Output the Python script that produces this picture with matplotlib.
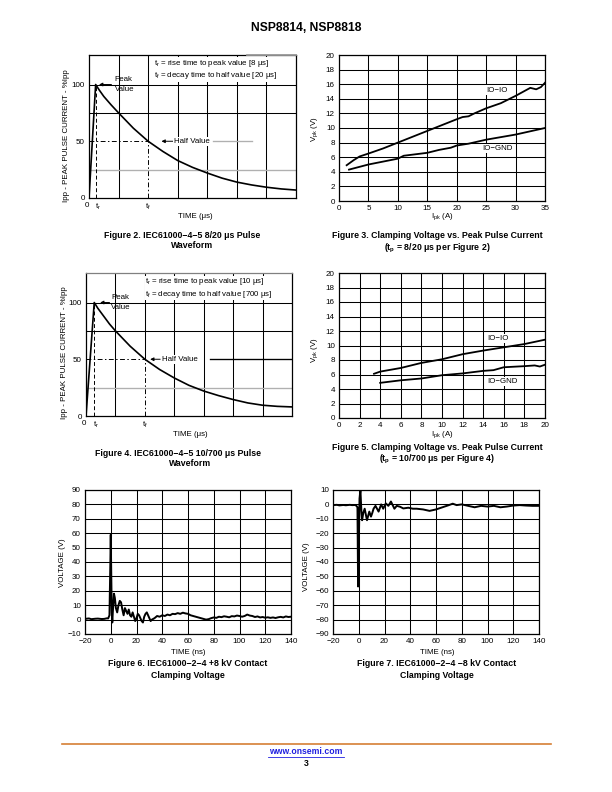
import matplotlib
matplotlib.use("Agg")
import matplotlib.pyplot as plt
from matplotlib.lines import Line2D

plt.rcParams["font.family"] = ["Liberation Sans", "DejaVu Sans"]
plt.rcParams["mathtext.fontset"] = "custom"
plt.rcParams["mathtext.rm"] = "Liberation Sans"
plt.rcParams["mathtext.it"] = "Liberation Sans:italic"
plt.rcParams["mathtext.bf"] = "Liberation Sans:bold"

W, H = 612, 792

# --- Figure 2: 8/20 us pulse (time in grid divisions, current in % Ipp) ---
p820_t = [0, 0.225, 0.35, 0.5, 0.75, 1, 1.5, 2, 2.5, 3, 3.5, 4, 4.5, 5, 5.5, 6, 6.5, 7]
p820_i = [0, 100, 95, 89.5, 82, 75, 61.5, 50, 41, 33, 27, 22, 17.5, 14, 11.5, 9.5, 8, 7]

# --- Figure 4: 10/700 us pulse ---
p10700_t = [0, 0.28, 0.4, 0.6, 0.8, 1, 1.5, 2, 2.5, 3, 3.5, 4, 4.5, 5, 5.5, 6, 6.5, 7]
p10700_i = [0, 100, 95, 88, 81, 75, 61.5, 50, 41, 33.5, 27, 22, 18, 14.5, 11.5, 9.5, 8.5, 8]

# --- Figure 3: clamping voltage, 8/20 us ---
io_io_820_a = [1.3, 2.5, 3.5, 5, 7.5, 10, 12.5, 15, 17.5, 20, 21, 22, 23, 25,
               27.5, 30, 32.5, 33.5, 34.3, 35]
io_io_820_v = [4.9, 5.6, 6.1, 6.5, 7.2, 8.0, 8.8, 9.6, 10.4, 11.2, 11.5, 11.6,
               12.0, 12.7, 13.4, 14.4, 15.5, 15.3, 15.6, 16.2]
io_gnd_820_a = [1.7, 5, 10, 11, 15, 17, 19, 20, 22, 25, 30, 35]
io_gnd_820_v = [4.3, 5.0, 5.8, 6.2, 6.6, 7.0, 7.3, 7.6, 7.85, 8.4, 9.1, 10.0]

# --- Figure 5: clamping voltage, 10/700 us ---
io_io_10700_a = [3.4, 4, 6, 8, 10, 12, 14, 16, 18, 19, 20]
io_io_10700_v = [6.1, 6.4, 6.9, 7.6, 8.1, 8.8, 9.3, 9.75, 10.2, 10.5, 10.8]
io_gnd_10700_a = [4, 6, 8, 10, 12, 14, 15, 16, 18, 19, 19.5, 20]
io_gnd_10700_v = [4.85, 5.2, 5.45, 5.9, 6.15, 6.5, 6.6, 7.0, 7.15, 7.25, 7.1, 7.35]

# --- Figure 6: +8 kV contact ESD ---
pos_t = [-20, -17, -15, -12, -10, -7, -5, -3, -2, -1, -0.3, 0, 0.4, 0.8, 1.2,
         1.6, 2.5, 3.2, 4, 5, 6, 7, 8, 9, 10, 11, 12, 13, 14, 15, 16, 17, 18,
         19, 20, 21, 22, 23, 24, 25, 26, 27, 28, 29, 30, 31, 32, 34, 36, 38, 40,
         42, 44, 46, 48, 50, 52, 54, 56, 58, 60, 62, 64, 66, 68, 70, 72, 74, 76,
         78, 80, 82, 84, 86, 88, 90, 92, 94, 96, 98, 100, 102, 104, 106, 108,
         110, 112, 114, 116, 118, 120, 122, 124, 126, 128, 130, 132, 134, 136,
         138, 140]
pos_v = [0.5, 0.8, 0.3, 0.6, 0.7, 0.4, 0.5, 0.9, 0.8, 3, 40, 59, 30, 5, -2,
         5, 18, 15, 8, 5, 10, 13, 12, 7, 3, 8, 6, 4, 7, 3, 2, 5, 2,
         -1, 1, 4, 3, 1, -1, -2, 2, 4, 5, 3, 1, -1, 0, 1, 2.5, 2, 3,
         2.5, 3.5, 3, 4, 3.8, 4.5, 4, 4.8, 4.3, 4, 3, 2.5, 2, 1.5, 1, 0.5, 0, 0.3,
         1, 1.5, 1.2, 2, 1.7, 2.3, 2, 1.6, 2.4, 2.2, 2.8, 2.5, 2, 2.5, 3.5, 2.8,
         2.5, 1.8, 2.2, 1.5, 1.8, 1.3, 1.6, 1.2, 1.5, 1.1, 1.6, 1.9, 1.5, 2.2,
         1.8, 2]

# --- Figure 7: -8 kV contact ESD ---
neg_t = [-20, -17, -15, -12, -10, -7, -5, -3, -2, -1, -0.5, 0, 0.6, 1.3, 2,
         2.6, 3.5, 4.6, 5.5, 6.4, 7.3, 8.2, 9.5, 10.5, 11.5, 13, 15.4, 17.4, 19,
         21, 23, 25, 27.7, 29.5, 32, 34.6, 38.5, 42, 45, 50, 55, 60, 65, 70, 73,
         76, 80, 85, 90, 95, 100, 105, 110, 115, 120, 125, 130, 135, 140]
neg_v = [-0.5, -0.3, -0.7, -0.4, -0.6, -0.3, -0.5, -0.4, -0.8, -2, -57, -30, 4,
         10, -4, -11, -6, -3, -7, -11, -8, -5, -8.5, -6, -3, -1, -5, 0, -3,
         0.7, -1, 2, -3, -1, -1.6, -2.8, -2.3, -3, -3, -3.5, -4.5, -3.5, -2, -0.5,
         0.5, -0.5, 0, -1, -2, -1, -1.5, -1, -2, -1.5, -0.8, -0.5, -0.8, -1, -1]

TICK_FS = 5.8
LAB_FS = 5.7
CAP_FS = 6.3
GRID_LW = 0.75


def px_axes(fig, left, top, right, bottom):
    return fig.add_axes([left / W, 1 - bottom / H, (right - left) / W,
                         (bottom - top) / H])


def px_text(fig, x, y, s, **kw):
    kw.setdefault("ha", "center")
    kw.setdefault("va", "center")
    fig.text(x / W, 1 - y / H, s, **kw)


def style_axes(ax):
    for sp in ax.spines.values():
        sp.set_linewidth(0.9)
        sp.set_color("black")
    ax.tick_params(length=0, labelsize=TICK_FS, pad=3)


def pulse_chart(ax, t, i, t_r, text_xy, tr_txt, tf_txt, peak_xy, half_xy, half_line, right_gray):
    style_axes(ax)
    ax.set_xlim(0, 7)
    ax.set_ylim(0, 126)
    for x in range(1, 7):
        if x == 2:
            ax.plot([2, 2], [50, 126], color="black", lw=GRID_LW)
        else:
            ax.axvline(x, color="black", lw=GRID_LW)
    ax.axhline(100, color="black", lw=GRID_LW)
    ax.axhline(75, color="black", lw=GRID_LW)
    ax.axhline(25, color="#b0b0b0", lw=GRID_LW * 1.3)
    # dashed construction lines
    ax.plot([0, 2], [50, 50], color="black", lw=0.7, dashes=(5, 2.5, 1.5, 2.5))
    ax.plot([2, 2], [0, 50], color="black", lw=0.7, dashes=(5, 2.5, 1.5, 2.5))
    ax.plot([t_r, t_r], [0, 100], color="black", lw=0.7, dashes=(4, 2.5))
    ax.plot(half_line[0], [50, 50], color=half_line[1], lw=GRID_LW * 1.3)
    if right_gray is not None:
        ax.plot(right_gray, [126, 126], color="#9a9a9a", lw=1.3,
                clip_on=False, zorder=5)
    ax.plot(t, i, color="black", lw=1.2, zorder=4)

    ax.text(text_xy[0], text_xy[1] - 4, tr_txt + "\n" + tf_txt,
            fontsize=LAB_FS, va="center", linespacing=1.25,
            bbox=dict(fc="white", ec="none", pad=0.2))

    ax.annotate("", xy=(peak_xy[0], 100), xytext=(peak_xy[1], 100),
                arrowprops=dict(arrowstyle="-|>", color="black", lw=0.7,
                                mutation_scale=5, shrinkA=0, shrinkB=0))
    ax.text(peak_xy[2], 100, "Peak\nValue", fontsize=LAB_FS, va="center",
            linespacing=1.45)

    ax.annotate("", xy=(half_xy[0], 50), xytext=(half_xy[1], 50),
                arrowprops=dict(arrowstyle="-|>", color="black", lw=0.7,
                                mutation_scale=5, shrinkA=0, shrinkB=0))
    ax.text(half_xy[2], 50, "Half Value", fontsize=LAB_FS, va="center",
            bbox=dict(fc="white", ec="none", pad=0.6))

    ax.set_yticks([0, 50, 100])
    ax.set_yticklabels(["0", "50", "100"])
    ax.set_xticks([0, t_r + 0.07, 2])
    ax.set_xticklabels(["0", "t$_{\\rm r}$", "t$_{\\rm f}$"])
    lab = ax.get_xticklabels()
    lab[0].set_ha("right")
    lab[1].set_ha("center")


def clamp_chart(ax, xmax, xstep, a1, v1, a2, v2, lab1, lab2):
    style_axes(ax)
    ax.set_xlim(0, xmax)
    ax.set_ylim(0, 20)
    ax.set_xticks(list(range(0, xmax + 1, xstep)))
    ax.set_yticks(list(range(0, 21, 2)))
    ax.grid(True, color="black", lw=GRID_LW)
    ax.set_axisbelow(True)
    ax.plot(a1, v1, color="black", lw=1.3)
    ax.plot(a2, v2, color="black", lw=1.3)
    ax.text(lab1[0], lab1[1], "IO\u2212IO", fontsize=LAB_FS, ha="center",
            va="center", bbox=dict(fc="white", ec="none", pad=0.8))
    ax.text(lab2[0], lab2[1], "IO\u2212GND", fontsize=LAB_FS, ha="center",
            va="center", bbox=dict(fc="white", ec="none", pad=0.8))


def esd_chart(ax, t, v, ylo, yhi):
    style_axes(ax)
    ax.set_xlim(-20, 140)
    ax.set_ylim(ylo, yhi)
    ax.set_xticks(list(range(-20, 141, 20)))
    ax.set_yticks(list(range(ylo, yhi + 1, 10)))
    ax.grid(True, color="black", lw=GRID_LW)
    ax.set_axisbelow(True)
    ax.plot(t, v, color="black", lw=1.4)


fig = plt.figure(figsize=(6.12, 7.92), dpi=100)

px_text(fig, 306, 28, "NSP8814, NSP8818", fontsize=8.7, fontweight="bold")

# Figure 2
ax2 = px_axes(fig, 89, 55, 296, 198)
pulse_chart(ax2, p820_t, p820_i, 0.225, (2.19, 117.2),
            "t$_{\\rm r}$ = rise time to peak value [8 μs]",
            "t$_{\\rm f}$ = decay time to half value [20 μs]",
            (0.34, 0.76, 0.87), (2.45, 2.84, 2.87),
            ([4.2, 5.5], "#b0b0b0"), [5.33, 7])
px_text(fig, 67, 136, "Ipp - PEAK PULSE CURRENT - %Ipp", fontsize=LAB_FS,
        rotation=90)
px_text(fig, 195, 216, "TIME (μs)", fontsize=LAB_FS)
px_text(fig, 182, 235, "Figure 2. IEC61000\u22124\u22125 8/20 μs Pulse",
        fontsize=CAP_FS, fontweight="bold")
px_text(fig, 192, 246, "Waveform", fontsize=CAP_FS, fontweight="bold")

# Figure 3
ax3 = px_axes(fig, 339, 55, 545, 201)
clamp_chart(ax3, 35, 5, io_io_820_a, io_io_820_v, io_gnd_820_a, io_gnd_820_v,
            (26.8, 15.2), (26.9, 7.2))
px_text(fig, 315, 129, "V$_{\\rm pk}$ (V)", fontsize=LAB_FS, rotation=90)
px_text(fig, 442, 217, "I$_{\\rm pk}$ (A)", fontsize=LAB_FS)
px_text(fig, 437, 236, "Figure 3. Clamping Voltage vs. Peak Pulse Current",
        fontsize=CAP_FS, fontweight="bold")
px_text(fig, 437, 248, "(t$_{\\bf p}$ = 8/20 μs per Figure 2)",
        fontsize=CAP_FS, fontweight="bold")

# Figure 4
ax4 = px_axes(fig, 86, 273, 292, 416)
pulse_chart(ax4, p10700_t, p10700_i, 0.28, (2.0, 116.6),
            "t$_{\\rm r}$ = rise time to peak value [10 μs]",
            "t$_{\\rm f}$ = decay time to half value [700 μs]",
            (0.48, 0.8, 0.85), (2.18, 2.52, 2.58),
            ([4.23, 7], "black"), None)
ax4.spines["top"].set_color("#808080")
px_text(fig, 65, 353, "Ipp - PEAK PULSE CURRENT - %Ipp", fontsize=LAB_FS,
        rotation=90)
px_text(fig, 190, 434, "TIME (μs)", fontsize=LAB_FS)
px_text(fig, 178, 453, "Figure 4. IEC61000\u22124\u22125 10/700 μs Pulse",
        fontsize=CAP_FS, fontweight="bold")
px_text(fig, 190, 464, "Waveform", fontsize=CAP_FS, fontweight="bold")

# Figure 5
ax5 = px_axes(fig, 339, 273, 545, 418)
clamp_chart(ax5, 20, 2, io_io_10700_a, io_io_10700_v, io_gnd_10700_a,
            io_gnd_10700_v, (15.4, 11.0), (15.9, 5.0))
px_text(fig, 315, 350, "V$_{\\rm pk}$ (V)", fontsize=LAB_FS, rotation=90)
px_text(fig, 442, 435, "I$_{\\rm pk}$ (A)", fontsize=LAB_FS)
px_text(fig, 437, 447, "Figure 5. Clamping Voltage vs. Peak Pulse Current",
        fontsize=CAP_FS, fontweight="bold")
px_text(fig, 437, 459, "(t$_{\\bf p}$ = 10/700 μs per Figure 4)",
        fontsize=CAP_FS, fontweight="bold")

# Figure 6
ax6 = px_axes(fig, 85, 490, 291, 634)
esd_chart(ax6, pos_t, pos_v, -10, 90)
px_text(fig, 62, 563, "VOLTAGE (V)", fontsize=LAB_FS, rotation=90)
px_text(fig, 188, 652, "TIME (ns)", fontsize=LAB_FS)
px_text(fig, 188, 664, "Figure 6. IEC61000\u22122\u22124 +8 kV Contact",
        fontsize=CAP_FS, fontweight="bold")
px_text(fig, 188, 676, "Clamping Voltage", fontsize=CAP_FS, fontweight="bold")

# Figure 7
ax7 = px_axes(fig, 333, 490, 539, 634)
esd_chart(ax7, neg_t, neg_v, -90, 10)
px_text(fig, 307, 567, "VOLTAGE (V)", fontsize=LAB_FS, rotation=90)
px_text(fig, 437, 652, "TIME (ns)", fontsize=LAB_FS)
px_text(fig, 437, 664, "Figure 7. IEC61000\u22122\u22124 \u22128 kV Contact",
        fontsize=CAP_FS, fontweight="bold")
px_text(fig, 437, 676, "Clamping Voltage", fontsize=CAP_FS, fontweight="bold")

# footer
fig.add_artist(Line2D([62 / W, 551 / W], [1 - 744 / H, 1 - 744 / H],
                      color="#d67f35", lw=1.2))
px_text(fig, 306, 752, "www.onsemi.com", fontsize=6.2, fontweight="bold",
        color="#1f1fe0")
fig.add_artist(Line2D([268 / W, 344 / W], [1 - 756.5 / H, 1 - 756.5 / H],
                      color="#1f1fe0", lw=0.6))
px_text(fig, 306, 763, "3", fontsize=6.2, fontweight="bold")

fig.savefig("out.png", dpi=100)
